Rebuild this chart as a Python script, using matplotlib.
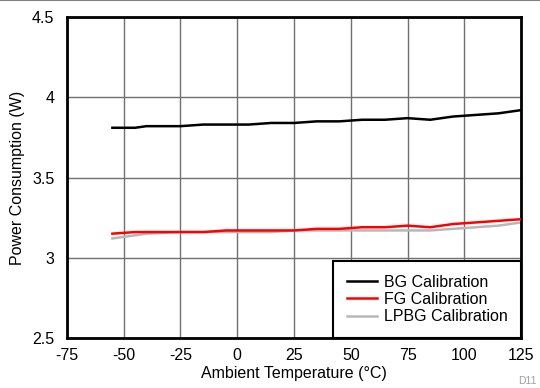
import matplotlib
matplotlib.use("Agg")
import matplotlib.pyplot as plt

plt.rcParams['font.family'] = ['Liberation Sans', 'DejaVu Sans']

# Data
temps = [-55, -45, -40, -25, -15, -5, 5, 15, 25, 35, 45, 55, 65, 75, 85, 95, 105, 115, 125]
bg = [3.81, 3.81, 3.82, 3.82, 3.83, 3.83, 3.83, 3.84, 3.84, 3.85, 3.85, 3.86, 3.86, 3.87, 3.86, 3.88, 3.89, 3.90, 3.92]
fg = [3.15, 3.16, 3.16, 3.16, 3.16, 3.17, 3.17, 3.17, 3.17, 3.18, 3.18, 3.19, 3.19, 3.20, 3.19, 3.21, 3.22, 3.23, 3.24]
lpbg = [3.12, 3.14, 3.15, 3.16, 3.16, 3.16, 3.16, 3.16, 3.17, 3.17, 3.17, 3.17, 3.17, 3.17, 3.17, 3.18, 3.19, 3.20, 3.22]

x_ticks = [-75, -50, -25, 0, 25, 50, 75, 100, 125]
y_ticks = [2.5, 3, 3.5, 4, 4.5]

fig = plt.figure(figsize=(5.4, 3.88), dpi=100)
ax = fig.add_axes([0.124, 0.129, 0.841, 0.827])

ax.plot(temps, bg, color='black', lw=1.8, label='BG Calibration', zorder=3)
ax.plot(temps, fg, color='#ff0000', lw=1.8, label='FG Calibration', zorder=3)
ax.plot(temps, lpbg, color='#b8b8b8', lw=1.8, label='LPBG Calibration', zorder=2)

ax.set_xlim(-75, 125)
ax.set_ylim(2.5, 4.5)
ax.set_xticks(x_ticks)
ax.set_xticklabels([str(t) for t in x_ticks])
ax.set_yticks(y_ticks)
ax.set_yticklabels(['2.5', '3', '3.5', '4', '4.5'])
ax.tick_params(length=0, labelsize=11.5)
ax.tick_params(axis='x', pad=7)
ax.tick_params(axis='y', pad=9)
ax.grid(True, color='#707070', lw=1)
ax.set_axisbelow(True)
for s in ax.spines.values():
    s.set_linewidth(2)
    s.set_color('black')

ax.set_xlabel('Ambient Temperature (°C)', fontsize=11.5, va='center')
ax.set_ylabel('Power Consumption (W)', fontsize=11.5, va='center')
ax.xaxis.set_label_coords(0.5, -0.112)
ax.yaxis.set_label_coords(-0.108, 0.5)

leg = ax.legend(loc='lower right', bbox_to_anchor=(1, 0), borderaxespad=0,
                fancybox=False, edgecolor='black', framealpha=1, fontsize=11.5,
                handlelength=1.9, handletextpad=0.4, labelspacing=0.15, borderpad=0.85)
leg.get_frame().set_linewidth(1.5)
leg.set_zorder(5)

fig.text(0.96, 0.005, 'D11', fontsize=7.5, color='#a0a0a0', ha='left', va='bottom')
fig.add_artist(plt.Line2D([0, 1], [0.999, 0.999], color='#808080', lw=1.5, transform=fig.transFigure))

fig.savefig('out.png', dpi=100)
